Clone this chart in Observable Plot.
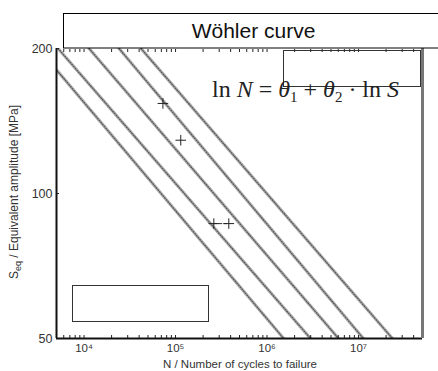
<!DOCTYPE html>
<html><head><meta charset="utf-8">
<script src="https://cdn.jsdelivr.net/npm/d3@7"></script>
<script src="https://cdn.jsdelivr.net/npm/@observablehq/plot@0.6"></script>
<style>body{margin:0;background:#fff} svg{display:block}</style>
</head><body><div id="chart"></div>
<script>
const titleText = "Wöhler curve";
const xLabelText = "N / Number of cycles to failure";
const xMajorTicks = [1e4, 1e5, 1e6, 1e7];
const xTickLabels = ["10⁴", "10⁵", "10⁶", "10⁷"];
const yTicks = [50, 100, 200];
const yTickLabels = ["50", "100", "200"];
const seriesNames = ["A", "B", "C", "D", "E"];
const cyclesStart = [5076, 5200, 11340, 24100, 41900];
const stressStart = [180, 200, 200, 200, 200];
const cyclesEnd = [1.52e6, 2.99e6, 6.05e6, 1.13e7, 2.35e7];
const stressEnd = [50, 50, 50, 50, 50];
const testCycles = [72800, 114000, 262000, 382000];
const testStress = [153.8, 129, 86.6, 86.6];
const pairCycles = [262000, 382000];
const pairStress = [86.6, 86.6];

const lineRows = [];
seriesNames.forEach((s, i) => {
  lineRows.push({series: s, N: cyclesStart[i], S: stressStart[i]});
  lineRows.push({series: s, N: cyclesEnd[i], S: stressEnd[i]});
});
const testRows = testCycles.map((N, i) => ({N, S: testStress[i]}));
const pairRows = pairCycles.map((N, i) => ({N, S: pairStress[i]}));
const minorTicks = [];
for (let e = 3; e <= 7; e++) for (let m = 1; m <= 9; m++) { const v = m * 10 ** e; if (v >= 5e3 && v <= 5e7) minorTicks.push(v); }

const W = 438, H = 371;
const plot = Plot.plot({
  width: W, height: H,
  marginLeft: 56, marginRight: 16, marginTop: 48, marginBottom: 33,
  style: {fontFamily: "Liberation Sans, Arial, sans-serif", background: "#fff"},
  x: {type: "log", domain: [5e3, 5e7]},
  y: {type: "log", domain: [50, 200]},
  marks: [
    Plot.line(lineRows, {x: "N", y: "S", z: "series", stroke: "#b0b0b0", strokeWidth: 3.2, clip: true}),
    Plot.line(lineRows, {x: "N", y: "S", z: "series", stroke: "#555", strokeWidth: 1.2, strokeDasharray: "1,1.6", clip: true}),
    Plot.line(pairRows, {x: "N", y: "S", stroke: "#333", strokeWidth: 1, strokeDasharray: "3,2"}),
    Plot.dot(testRows, {x: "N", y: "S", symbol: "plus", r: 3.5, stroke: "#222", strokeWidth: 1}),
    Plot.axisX({ticks: minorTicks, tickSize: -3, fill: "none", label: null, stroke: "#222"}),
    Plot.axisX({anchor: "top", ticks: minorTicks, tickSize: -3, fill: "none", label: null, stroke: "#222"}),
    Plot.axisX({ticks: xMajorTicks, tickSize: 0, tickPadding: 5, tickFormat: d => xTickLabels[xMajorTicks.indexOf(d)], fontSize: 11.5, fill: "#333", label: null}),
    Plot.axisY({ticks: yTicks, tickSize: -3, tickPadding: 7, tickFormat: d => yTickLabels[yTicks.indexOf(d)], fontSize: 12.5, fill: "#333", label: null, stroke: "#222"}),
    Plot.ruleY([50], {stroke: "#111", strokeWidth: 2}),
    Plot.ruleX([5e3], {stroke: "#111", strokeWidth: 2}),
    Plot.ruleX([5e7], {stroke: "#777", strokeWidth: 3})
  ]
});
document.getElementById("chart").appendChild(plot);

const svg = d3.select(plot);
// title box
svg.append("rect").attr("x", 63.5).attr("y", 13.5).attr("width", 420).attr("height", 34.5)
  .attr("fill", "#fff").attr("stroke", "#000").attr("stroke-width", 1);
svg.append("text").attr("x", 253.5).attr("y", 38).attr("text-anchor", "middle")
  .attr("font-family", "Liberation Sans, Arial, sans-serif").attr("font-size", 21).attr("fill", "#111").text(titleText);
// equation box
svg.append("rect").attr("x", 283.5).attr("y", 50.5).attr("width", 137).attr("height", 36)
  .attr("fill", "none").attr("stroke", "#333").attr("stroke-width", 1);
const eq = svg.append("text").attr("x", 212).attr("y", 97).attr("text-anchor", "start")
  .attr("font-family", "Liberation Serif, Times New Roman, serif").attr("font-size", 24).attr("fill", "#222");
eq.append("tspan").text("ln ");
eq.append("tspan").attr("font-style", "italic").text("N");
eq.append("tspan").text(" = ");
eq.append("tspan").attr("font-style", "italic").text("θ");
eq.append("tspan").attr("font-size", 15).attr("dy", 5).text("1");
eq.append("tspan").attr("dy", -5).text(" + ");
eq.append("tspan").attr("font-style", "italic").text("θ");
eq.append("tspan").attr("font-size", 15).attr("dy", 5).text("2");
eq.append("tspan").attr("dy", -5).text(" · ln ");
eq.append("tspan").attr("font-style", "italic").text("S");
// empty legend box
svg.append("rect").attr("x", 72.5).attr("y", 285.5).attr("width", 136).attr("height", 36)
  .attr("fill", "#fff").attr("stroke", "#333").attr("stroke-width", 1);
// axis labels
svg.append("text").attr("x", 240).attr("y", 367.5).attr("text-anchor", "middle")
  .attr("font-family", "Liberation Sans, Arial, sans-serif").attr("font-size", 11.5).attr("fill", "#333").text(xLabelText);
const yl = svg.append("text").attr("transform", "translate(18,192) rotate(-90)").attr("text-anchor", "middle")
  .attr("font-family", "Liberation Sans, Arial, sans-serif").attr("font-size", 12).attr("fill", "#333");
yl.append("tspan").text("S");
yl.append("tspan").attr("font-size", 9).attr("dy", 3).text("eq");
yl.append("tspan").attr("dy", -3).text(" / Equivalent amplitude [MPa]");
</script></body></html>
